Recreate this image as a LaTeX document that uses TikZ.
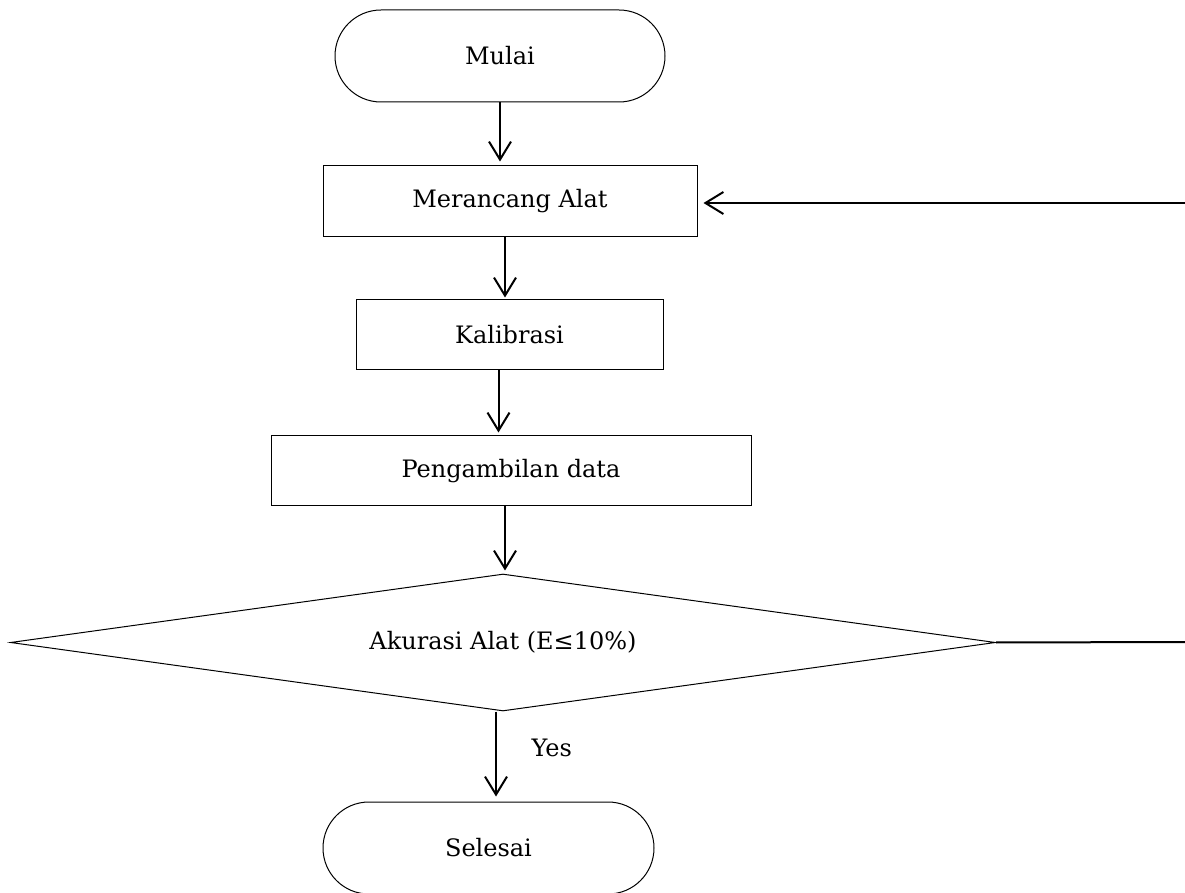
\documentclass[tikz,border=0pt]{standalone}
\usepackage{fontspec}
\setmainfont{DejaVu Serif}
\usetikzlibrary{arrows.meta,shapes.geometric}
\begin{document}
\begin{tikzpicture}[x=0.5pt,y=-0.5pt,
  every node/.style={font=\fontsize{12}{14}\selectfont},
  term/.style={draw,line width=0.5pt,rectangle,rounded corners=23pt,minimum width=165pt,minimum height=46pt,inner sep=0pt},
  procbox/.style={draw,line width=0.5pt,rectangle,minimum height=35pt,inner sep=0pt},
  decision/.style={draw,line width=0.5pt,diamond,aspect=7.1,minimum width=492.5pt,minimum height=68.5pt,inner sep=0pt},
  flow/.style={line width=1pt,-{Straight Barb[length=9pt,width=11pt,line width=1pt]}}
]
\useasboundingbox (0,0) rectangle (1185,893);
\node[term] (mulai) at (500,56) {Mulai};
\node[procbox,minimum width=187pt,minimum height=35.5pt] (rancang) at (510,201.5) {Merancang Alat};
\node[procbox,minimum width=153.5pt] (kalib) at (509.5,335) {Kalibrasi};
\node[procbox,minimum width=240pt] (ambil) at (511,471) {Pengambilan data};
\node[decision] (akurasi) at (503,642.5) {Akurasi Alat (E≤10\%)};
\node[term,minimum width=165.5pt] (selesai) at (488.5,848) {Selesai};
\coordinate (fbR) at (1185,642);
\coordinate (fbT) at (1185,203);

\draw[flow,shorten >=2pt] (mulai.south) -- (mulai.south |- rancang.north);
\draw[flow,shorten >=1pt] ([xshift=-2.5pt]rancang.south) -- ([xshift=-2.5pt]rancang.south |- kalib.north);
\draw[flow,shorten >=1.5pt] ([xshift=-5.5pt]kalib.south) -- ([xshift=-5.5pt]kalib.south |- ambil.north);
\draw[flow,shorten >=1.5pt] ([xshift=-3pt]ambil.south) -- ([xshift=-3pt]ambil.south |- akurasi.north);
\draw[flow,shorten >=2.5pt] ([xshift=-3.5pt]akurasi.south) -- ([xshift=-3.5pt]akurasi.south |- selesai.north)
  node[pos=0.4,right=14pt] {Yes};
\draw[line width=1pt] (akurasi.east) -- (fbR);
\draw[flow,shorten >=3pt] (fbT) -- (fbT -| rancang.east);
\end{tikzpicture}
\end{document}
